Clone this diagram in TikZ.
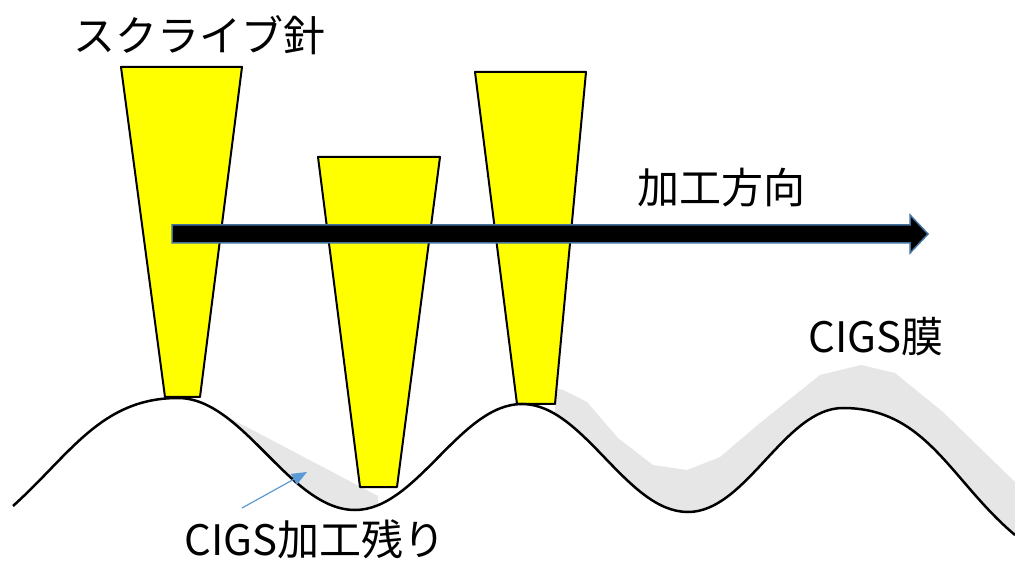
\documentclass[tikz,border=0pt]{standalone}
\usepackage{fontspec}
\newfontfamily\jpfont{Noto Sans CJK JP}
\usetikzlibrary{arrows.meta}

\definecolor{needleyellow}{RGB}{255,255,0}
\definecolor{filmgray}{RGB}{230,230,230}
\definecolor{arrowblue}{RGB}{65,113,156}
\definecolor{pointerblue}{RGB}{91,155,213}

\tikzset{
    jptext/.style={inner sep=0pt, anchor=base, font=\jpfont\fontsize{42}{50}\selectfont},
    needle/.style={fill=needleyellow, draw=black, line width=2pt, line join=round},
    pointer/.style={draw=pointerblue, line width=1.2pt, -{Triangle[length=15pt,width=12pt]}}
}

\begin{document}
\begin{tikzpicture}[x=1pt,y=1pt]
    \useasboundingbox (0,0) rectangle (1015,560);

    % Substrate surface
    \def\surface{(13,54) to[out=42,in=180] (178,162)
        to[out=0,in=180,looseness=0.8] (355,50)
        to[out=0,in=180,looseness=0.8] (522,156)
        to[out=0,in=180,looseness=0.8] (688,48)
        to[out=0,in=180,looseness=0.8] (843,152)
        to[out=0,in=140] (1015,25)}

    % CIGS film (only above the surface)
    \begin{scope}
        \clip \surface -- (1015,560) -- (0,560) -- (0,54) -- cycle;
        \fill[filmgray] (222,146) -- (378,64) -- (378,0) -- (222,0) -- cycle;
        \fill[filmgray] (555,172) -- (563,170) -- (587,158) -- (618,122) -- (653,95)
            -- (687,90) -- (720,103) -- (760,137) -- (820,185) -- (861,195)
            -- (895,187) -- (943,148) -- (1015,78) -- (1015,0) -- (555,0) -- cycle;
    \end{scope}

    % Needles
    \foreach \tl/\tr/\ty/\bl/\br/\by in {121/242/493/165/200/163,
                                          318/440/403/360/397/73,
                                          475/586/488/517/555/156} {
        \filldraw[needle] (\tl,\ty) -- (\tr,\ty) -- (\br,\by) -- (\bl,\by) -- cycle;
    }

    \draw[line width=2.5pt] \surface;

    % Direction arrow
    \filldraw[fill=black, draw=arrowblue, line width=1.5pt, line join=miter]
        (172,317) -- (910,317) -- (910,307) -- (928,326)
        -- (910,345) -- (910,335) -- (172,335) -- cycle;

    % Labels
    \node[jptext] (needle label) at (199,508) {スクライブ針};
    \node[jptext] (direction label) at (721,356) {加工方向};
    \node[jptext] (film label) at (876,207) {CIGS膜};
    \node[jptext] (residue label) at (315,5) {CIGS加工残り};

    % Pointer to the residue
    \coordinate (residue tail) at (242,52);
    \coordinate (residue tip) at (307,88);
    \draw[pointer] (residue tail) -- (residue tip);
\end{tikzpicture}
\end{document}
